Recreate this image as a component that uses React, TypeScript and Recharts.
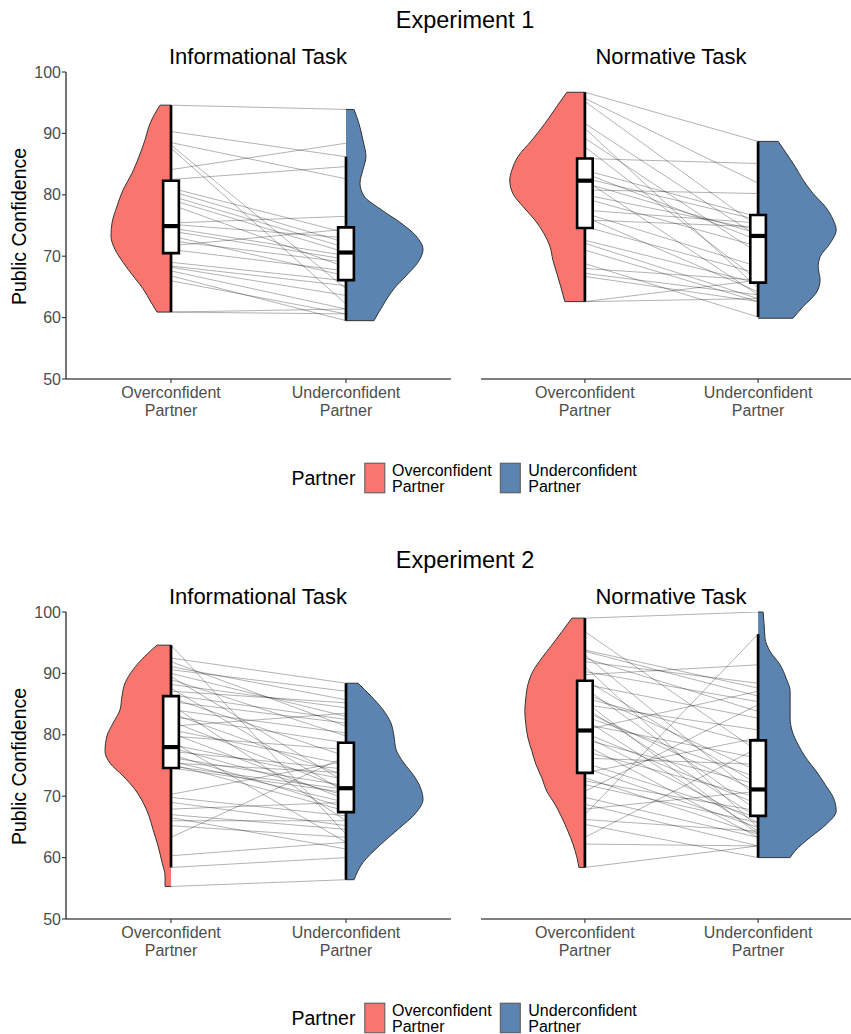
import { ComposedChart, Area, Line, XAxis, YAxis, ReferenceArea, ReferenceLine } from "recharts";

const categories = ["Overconfident Partner", "Underconfident Partner"];
const yTicks = [50, 60, 70, 80, 90, 100];
const overColor = "#F8766D";
const underColor = "#5B84B1";

// Experiment 1 – informational task (paired participants)
const e1InfoOver = [94.6, 90.3, 88.5, 88.1, 87.6, 84.1, 82.5, 81.1, 80.6, 79.8, 79.2, 78.4, 75.4, 75.2, 74.6, 74.1, 73.3, 72.5, 71.7, 71.1, 69.0, 68.4, 68.2, 67.6, 66.8, 66.0, 60.9, 60.9];
const e1InfoUnder = [93.9, 86.2, 82.6, 64.7, 62.2, 88.4, 84.6, 73.8, 72.2, 71.4, 70.6, 68.2, 76.5, 73.0, 70.1, 69.5, 66.8, 69.0, 74.4, 67.6, 66.0, 65.2, 63.6, 61.4, 59.5, 60.6, 61.4, 60.6];

// Experiment 1 – normative task
const e1NormOver = [96.7, 95.7, 95.2, 91.6, 90.8, 89.2, 87.8, 85.9, 84.0, 83.5, 82.7, 82.4, 81.9, 80.8, 80.0, 79.4, 77.5, 77.0, 76.4, 75.9, 74.8, 72.6, 72.1, 71.0, 68.8, 68.0, 67.2, 66.7, 62.6, 62.6];
const e1NormUnder = [88.7, 81.9, 74.8, 73.2, 64.8, 70.5, 66.1, 85.1, 76.4, 72.6, 75.9, 63.7, 73.7, 80.2, 74.3, 71.6, 75.4, 68.3, 64.2, 74.8, 67.2, 65.6, 63.1, 62.6, 60.1, 66.1, 63.7, 62.6, 66.1, 63.1];

// Experiment 2 – informational task
const e2InfoOver = [94.6, 92.5, 91.9, 91.1, 90.6, 90.0, 89.5, 89.0, 88.2, 87.6, 87.1, 86.5, 86.0, 85.4, 84.9, 84.1, 83.5, 83.0, 82.2, 81.4, 80.8, 80.3, 79.8, 79.0, 78.4, 77.9, 77.3, 76.8, 76.3, 75.7, 75.4, 75.2, 74.9, 74.6, 70.3, 69.8, 69.0, 67.9, 67.0, 66.5, 66.0, 65.2, 63.3, 60.3, 58.4, 55.3];
const e2InfoUnder = [63.8, 88.4, 81.4, 85.7, 87.1, 83.0, 72.2, 79.8, 84.4, 70.6, 85.2, 82.5, 76.5, 81.9, 66.0, 80.3, 73.3, 78.7, 71.1, 83.5, 75.2, 69.5, 77.6, 62.5, 72.7, 70.1, 74.4, 68.1, 71.7, 69.0, 73.8, 67.6, 71.1, 70.6, 75.7, 66.8, 65.2, 69.0, 64.6, 61.4, 66.0, 63.3, 76.5, 62.5, 60.0, 56.4];

// Experiment 2 – normative task
const e2NormOver = [99.0, 96.8, 93.8, 93.6, 93.0, 92.5, 91.9, 91.1, 90.3, 89.8, 89.0, 88.2, 87.6, 86.8, 86.0, 85.4, 84.9, 84.4, 83.8, 83.0, 82.5, 81.7, 80.8, 80.3, 79.8, 79.2, 78.4, 77.3, 76.2, 75.4, 74.6, 73.8, 73.0, 72.5, 71.9, 70.8, 69.8, 68.7, 67.9, 67.0, 66.2, 65.4, 63.3, 62.2, 58.4];
const e2NormUnder = [100, 77.3, 87.6, 86.3, 69.8, 83.8, 88.4, 64.9, 85.4, 91.4, 71.9, 82.7, 67.6, 74.1, 78.4, 63.8, 80.8, 66.5, 70.8, 73.0, 64.3, 76.2, 87.1, 68.7, 65.7, 71.9, 63.3, 69.8, 75.2, 66.5, 64.9, 79.5, 63.8, 67.6, 65.7, 84.9, 63.3, 61.9, 70.8, 96.4, 64.3, 60.0, 77.9, 61.9, 61.9];

// half-violin outlines: confidence levels and half widths (in category units)
const e1InfoOverLevels = [60.9, 62.5, 64.7, 66.8, 69.0, 71.1, 73.3, 75.4, 78.1, 80.8, 83.5, 86.2, 88.9, 91.6, 94.6];
const e1InfoOverWidths = [0.08, 0.114, 0.16, 0.217, 0.274, 0.32, 0.343, 0.337, 0.309, 0.274, 0.223, 0.183, 0.149, 0.12, 0.063];
const e1InfoUnderLevels = [59.5, 62.0, 64.7, 66.8, 69.0, 71.1, 73.3, 75.4, 77.6, 79.8, 81.9, 84.1, 86.2, 88.9, 91.6, 93.9];
const e1InfoUnderWidths = [0.16, 0.211, 0.274, 0.343, 0.411, 0.44, 0.4, 0.314, 0.2, 0.103, 0.08, 0.097, 0.114, 0.097, 0.074, 0.046];
const e1NormOverLevels = [62.6, 65.0, 67.2, 69.4, 71.6, 73.7, 75.9, 78.1, 80.2, 82.4, 84.0, 86.2, 88.9, 91.6, 94.4, 96.7];
const e1NormOverWidths = [0.116, 0.139, 0.162, 0.185, 0.202, 0.237, 0.289, 0.358, 0.416, 0.434, 0.422, 0.387, 0.306, 0.231, 0.162, 0.104];
const e1NormUnderLevels = [59.9, 61.8, 64.0, 66.1, 68.3, 69.9, 72.1, 74.3, 75.9, 78.1, 80.2, 82.4, 84.6, 86.8, 88.7];
const e1NormUnderWidths = [0.202, 0.26, 0.335, 0.358, 0.347, 0.358, 0.416, 0.451, 0.434, 0.387, 0.318, 0.26, 0.214, 0.162, 0.116];
const e2InfoOverLevels = [55.3, 57.0, 59.2, 61.9, 64.6, 66.8, 69.0, 71.1, 73.3, 75.4, 77.3, 79.8, 81.9, 84.1, 86.3, 88.4, 90.6, 92.8, 94.6];
const e2InfoOverWidths = [0.034, 0.034, 0.051, 0.074, 0.103, 0.126, 0.16, 0.206, 0.274, 0.349, 0.377, 0.366, 0.331, 0.291, 0.28, 0.263, 0.217, 0.149, 0.08];
const e2InfoUnderLevels = [56.4, 59.2, 61.9, 64.6, 67.3, 69.5, 71.1, 73.3, 75.4, 77.6, 79.8, 81.9, 84.1, 86.3, 88.4];
const e2InfoUnderWidths = [0.046, 0.097, 0.189, 0.297, 0.4, 0.44, 0.429, 0.389, 0.331, 0.286, 0.274, 0.257, 0.211, 0.143, 0.069];
const e2NormOverLevels = [58.4, 60.0, 62.2, 64.3, 66.5, 68.7, 70.8, 73.0, 75.2, 77.3, 79.5, 81.7, 83.8, 86.0, 88.2, 90.3, 92.5, 94.6, 96.8, 99.0];
const e2NormOverWidths = [0.035, 0.046, 0.069, 0.098, 0.133, 0.173, 0.22, 0.249, 0.283, 0.306, 0.329, 0.341, 0.347, 0.341, 0.329, 0.301, 0.249, 0.191, 0.133, 0.075];
const e2NormUnderLevels = [60.0, 61.1, 63.3, 65.4, 67.6, 69.8, 71.9, 74.1, 76.2, 78.4, 80.6, 82.7, 84.9, 87.1, 89.2, 91.4, 93.6, 95.7, 97.9, 100];
const e2NormUnderWidths = [0.185, 0.214, 0.301, 0.393, 0.451, 0.434, 0.387, 0.335, 0.277, 0.231, 0.197, 0.185, 0.185, 0.185, 0.162, 0.127, 0.069, 0.04, 0.035, 0.029];

// box stats: [lower whisker, q1, median, q3, upper whisker]
const e1InfoOverBox = [60.9, 70.5, 74.9, 82.3, 94.6];
const e1InfoUnderBox = [59.5, 66.1, 70.6, 74.7, 86.2];
const e1NormOverBox = [62.6, 74.6, 82.3, 85.9, 96.7];
const e1NormUnderBox = [60.1, 65.7, 73.3, 76.7, 88.7];
const e2InfoOverBox = [58.4, 74.6, 78.0, 86.3, 94.6];
const e2InfoUnderBox = [56.4, 67.4, 71.3, 78.7, 88.4];
const e2NormOverBox = [58.4, 73.8, 80.7, 88.8, 99.0];
const e2NormUnderBox = [60.0, 66.8, 71.1, 79.1, 96.4];

const FONT = "'Liberation Sans', Arial, Helvetica, sans-serif";
const BOX_HALF = 0.045;

const PartnerTick = (props: any) => {
  const { x, y, payload } = props;
  const words = categories[Math.round(payload.value) - 1].split(" ");
  return (
    <text x={x} y={y} textAnchor="middle" fill="#4D4D4D" fontSize={16} fontFamily={FONT}>
      <tspan x={x} dy={13.3}>{words[0]}</tspan>
      <tspan x={x} dy={17.4}>{words[1]}</tspan>
    </text>
  );
};

function boxParts(pos: number, s: number[], key: string) {
  return [
    <ReferenceArea
      key={key + "box"}
      x1={pos - BOX_HALF}
      x2={pos + BOX_HALF}
      y1={s[1]}
      y2={s[3]}
      fill="#fff"
      fillOpacity={1}
      stroke="#000"
      strokeWidth={2.6}
      ifOverflow="visible"
      zIndex={700}
    />,
    <ReferenceLine
      key={key + "med"}
      segment={[{ x: pos - BOX_HALF, y: s[2] }, { x: pos + BOX_HALF, y: s[2] }]}
      stroke="#000"
      strokeWidth={4.2}
      ifOverflow="visible"
      zIndex={800}
    />,
  ];
}

function Panel(p: any) {
  const { over, under, ovL, ovW, unL, unW, ovBox, unBox, showY, width, marginLeft, marginRight } = p;
  const rows = [
    ...ovL.map((y: number, i: number) => ({ y, ov: 1 - ovW[i] })),
    ...unL.map((y: number, i: number) => ({ y, un: 2 + unW[i] })),
  ].sort((a: any, b: any) => a.y - b.y);
  const pairs = over.map((v: number, i: number) => [
    { y: v, x: 1 },
    { y: under[i], x: 2 },
  ]);
  const ovN = ovL.length - 1;
  const unN = unL.length - 1;
  return (
    <ComposedChart
      width={width}
      height={360}
      layout="vertical"
      data={rows}
      margin={{ top: 10, right: marginRight, bottom: 3, left: marginLeft }}
    >
      <XAxis
        type="number"
        domain={[0.4, 2.6]}
        ticks={[1, 2]}
        interval={0}
        allowDataOverflow
        height={40}
        tick={<PartnerTick />}
        tickSize={4}
        tickMargin={2}
        axisLine={{ stroke: "#000", strokeWidth: 1.1 }}
        tickLine={{ stroke: "#333", strokeWidth: 1.1 }}
      />
      <YAxis
        type="number"
        dataKey="y"
        domain={[50, 100]}
        ticks={yTicks}
        interval={0}
        reversed
        allowDataOverflow
        hide={!showY}
        width={40}
        tickSize={4}
        tickMargin={1}
        tick={{ fill: "#4D4D4D", fontSize: 16, fontFamily: FONT }}
        axisLine={{ stroke: "#000", strokeWidth: 1.1 }}
        tickLine={{ stroke: "#333", strokeWidth: 1.1 }}
      />
      <Area
        dataKey="ov"
        baseValue={1}
        type="monotone"
        connectNulls
        fill={overColor}
        fillOpacity={1}
        stroke="#333"
        strokeWidth={1}
        dot={false}
        activeDot={false}
        isAnimationActive={false}
      />
      <Area
        dataKey="un"
        baseValue={2}
        type="monotone"
        connectNulls
        fill={underColor}
        fillOpacity={1}
        stroke="#333"
        strokeWidth={1}
        dot={false}
        activeDot={false}
        isAnimationActive={false}
      />
      <ReferenceLine segment={[{ x: 1 - ovW[0], y: ovL[0] }, { x: 1, y: ovL[0] }]} stroke="#333" strokeWidth={1} ifOverflow="visible" zIndex={150} />
      <ReferenceLine segment={[{ x: 1 - ovW[ovN], y: ovL[ovN] }, { x: 1, y: ovL[ovN] }]} stroke="#333" strokeWidth={1} ifOverflow="visible" zIndex={150} />
      <ReferenceLine segment={[{ x: 2, y: unL[0] }, { x: 2 + unW[0], y: unL[0] }]} stroke="#333" strokeWidth={1} ifOverflow="visible" zIndex={150} />
      <ReferenceLine segment={[{ x: 2, y: unL[unN] }, { x: 2 + unW[unN], y: unL[unN] }]} stroke="#333" strokeWidth={1} ifOverflow="visible" zIndex={150} />
      <ReferenceLine segment={[{ x: 1, y: ovBox[0] }, { x: 1, y: ovBox[4] }]} stroke="#000" strokeWidth={2.7} ifOverflow="visible" zIndex={300} />
      <ReferenceLine segment={[{ x: 2, y: unBox[0] }, { x: 2, y: unBox[4] }]} stroke="#000" strokeWidth={2.7} ifOverflow="visible" zIndex={300} />
      {pairs.map((d: any, i: number) => (
        <Line
          key={"l" + i}
          data={d}
          dataKey="x"
          type="linear"
          stroke="#000"
          strokeOpacity={0.3}
          strokeWidth={1}
          dot={false}
          activeDot={false}
          isAnimationActive={false}
        />
      ))}
      {boxParts(1, ovBox, "o")}
      {boxParts(2, unBox, "u")}
    </ComposedChart>
  );
}

function Block({ top, info, norm }: any) {
  return (
    <>
      <div style={{ position: "absolute", left: 0, top: top + 62 }}>
        <Panel {...info} showY width={460} marginLeft={26} marginRight={9} />
      </div>
      <div style={{ position: "absolute", left: 470, top: top + 62 }}>
        <Panel {...norm} showY={false} width={400} marginLeft={11} marginRight={8} />
      </div>
    </>
  );
}

function Texts({ top, title }: any) {
  return (
    <g fontFamily={FONT}>
      <text x={465} y={top + 28} textAnchor="middle" fontSize={23.5} fill="#000">{title}</text>
      <text x={258} y={top + 64.3} textAnchor="middle" fontSize={22} fill="#000">Informational Task</text>
      <text x={671} y={top + 64.3} textAnchor="middle" fontSize={22} fill="#000">Normative Task</text>
      <text transform={`translate(26, ${top + 226.5}) rotate(-90)`} textAnchor="middle" fontSize={19.5} fill="#000">Public Confidence</text>
      <text x={291.5} y={top + 485} fontSize={19.5} fill="#000">Partner</text>
      <rect x={364.8} y={top + 463.2} width={20} height={29.6} fill={overColor} stroke="#555" strokeWidth={1} />
      <text x={392} y={top + 475.7} fontSize={16} fill="#000">Overconfident</text>
      <text x={392} y={top + 492.3} fontSize={16} fill="#000">Partner</text>
      <rect x={500.3} y={top + 463.2} width={20} height={29.6} fill={underColor} stroke="#555" strokeWidth={1} />
      <text x={528.3} y={top + 475.7} fontSize={16} fill="#000">Underconfident</text>
      <text x={528.3} y={top + 492.3} fontSize={16} fill="#000">Partner</text>
    </g>
  );
}

export default function App() {
  const e1Info = { over: e1InfoOver, under: e1InfoUnder, ovL: e1InfoOverLevels, ovW: e1InfoOverWidths, unL: e1InfoUnderLevels, unW: e1InfoUnderWidths, ovBox: e1InfoOverBox, unBox: e1InfoUnderBox };
  const e1Norm = { over: e1NormOver, under: e1NormUnder, ovL: e1NormOverLevels, ovW: e1NormOverWidths, unL: e1NormUnderLevels, unW: e1NormUnderWidths, ovBox: e1NormOverBox, unBox: e1NormUnderBox };
  const e2Info = { over: e2InfoOver, under: e2InfoUnder, ovL: e2InfoOverLevels, ovW: e2InfoOverWidths, unL: e2InfoUnderLevels, unW: e2InfoUnderWidths, ovBox: e2InfoOverBox, unBox: e2InfoUnderBox };
  const e2Norm = { over: e2NormOver, under: e2NormUnder, ovL: e2NormOverLevels, ovW: e2NormOverWidths, unL: e2NormUnderLevels, unW: e2NormUnderWidths, ovBox: e2NormOverBox, unBox: e2NormUnderBox };
  return (
    <div style={{ position: "absolute", left: 0, top: 0, width: 851, height: 1034, overflow: "hidden", background: "#fff", fontFamily: FONT }}>
      <svg width={851} height={1034} style={{ position: "absolute", left: 0, top: 0 }}>
        <Texts top={0} title="Experiment 1" />
        <Texts top={540} title="Experiment 2" />
      </svg>
      <Block top={0} info={e1Info} norm={e1Norm} />
      <Block top={540} info={e2Info} norm={e2Norm} />
    </div>
  );
}
